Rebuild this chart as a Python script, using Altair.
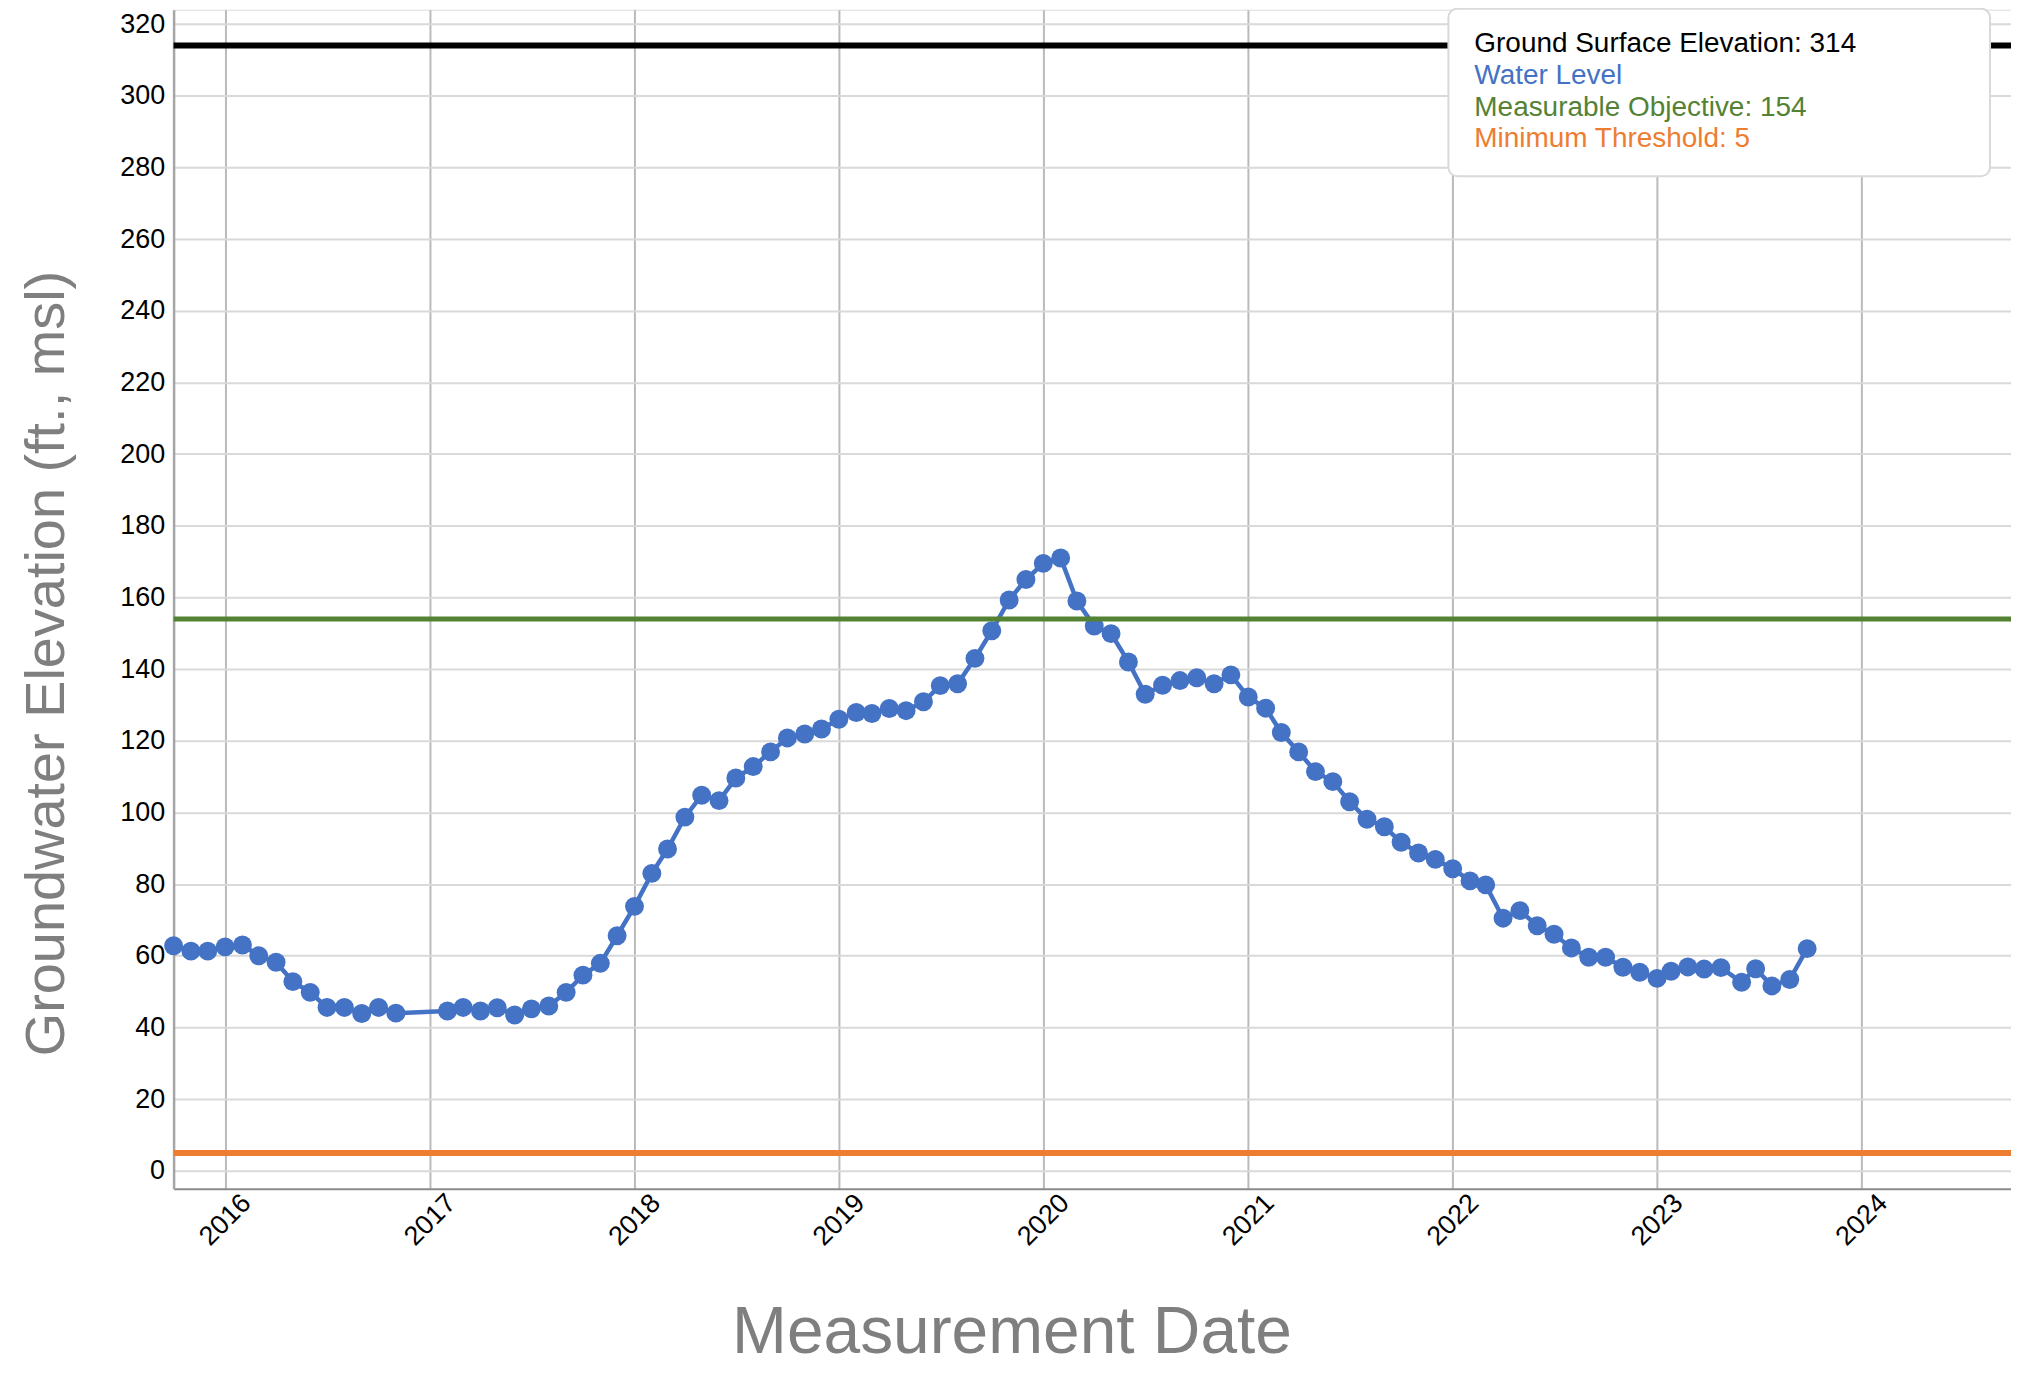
import altair as alt
import pandas as pd

# ---------------- data ----------------
dates = [
    "2015-10-01", "2015-11-01", "2015-12-01", "2016-01-01", "2016-02-01", "2016-03-01",
    "2016-04-01", "2016-05-01", "2016-06-01", "2016-07-01", "2016-08-01", "2016-09-01",
    "2016-10-01", "2016-11-01", "2017-02-01", "2017-03-01", "2017-04-01", "2017-05-01",
    "2017-06-01", "2017-07-01", "2017-08-01", "2017-09-01", "2017-10-01", "2017-11-01",
    "2017-12-01", "2018-01-01", "2018-02-01", "2018-03-01", "2018-04-01", "2018-05-01",
    "2018-06-01", "2018-07-01", "2018-08-01", "2018-09-01", "2018-10-01", "2018-11-01",
    "2018-12-01", "2019-01-01", "2019-02-01", "2019-03-01", "2019-04-01", "2019-05-01",
    "2019-06-01", "2019-07-01", "2019-08-01", "2019-09-01", "2019-10-01", "2019-11-01",
    "2019-12-01", "2020-01-01", "2020-02-01", "2020-03-01", "2020-04-01", "2020-05-01",
    "2020-06-01", "2020-07-01", "2020-08-01", "2020-09-01", "2020-10-01", "2020-11-01",
    "2020-12-01", "2021-01-01", "2021-02-01", "2021-03-01", "2021-04-01", "2021-05-01",
    "2021-06-01", "2021-07-01", "2021-08-01", "2021-09-01", "2021-10-01", "2021-11-01",
    "2021-12-01", "2022-01-01", "2022-02-01", "2022-03-01", "2022-04-01", "2022-05-01",
    "2022-06-01", "2022-07-01", "2022-08-01", "2022-09-01", "2022-10-01", "2022-11-01",
    "2022-12-01", "2023-01-01", "2023-01-26", "2023-02-25", "2023-03-26", "2023-04-25",
    "2023-06-01", "2023-06-26", "2023-07-25", "2023-08-26", "2023-09-26",
]
water_level = [
    62.8, 61.3, 61.3, 62.5, 63.0, 60.0,
    58.2, 52.8, 49.8, 45.6, 45.6, 43.9,
    45.6, 44.0, 44.6, 45.6, 44.6, 45.5,
    43.5, 45.2, 46.0, 49.8, 54.6, 57.9,
    65.6, 73.8, 83.0, 89.8, 98.7, 104.8,
    103.3, 109.6, 112.8, 116.9, 120.8, 121.9,
    123.3, 126.0, 127.9, 127.6, 129.0, 128.4,
    130.9, 135.4, 135.9, 143.0, 150.7, 159.3,
    165.0, 169.5, 171.0, 159.0, 152.0, 149.9,
    142.0, 133.0, 135.5, 136.8, 137.6, 135.9,
    138.4, 132.2, 129.1, 122.3, 116.9, 111.4,
    108.6, 103.0, 98.1, 96.0, 91.7, 88.7,
    86.9, 84.3, 80.9, 79.8, 70.5, 72.6,
    68.4, 66.0, 62.2, 59.6, 59.6, 56.8,
    55.4, 53.7, 55.7, 56.9, 56.3, 56.7,
    52.6, 56.4, 51.6, 53.4, 62.0,
]

ref_values = [314, 154, 5]
ref_colors = ["#000000", "#548235", "#ED7D31"]
ref_widths = [6, 5, 6]

legend_labels = [
    "Ground Surface Elevation: 314",
    "Water Level",
    "Measurable Objective: 154",
    "Minimum Threshold: 5",
]
legend_colors = ["#000000", "#4472C4", "#548235", "#ED7D31"]

y_ticks = list(range(0, 321, 20))
x_years = list(range(2016, 2025))

FONT = "Liberation Sans"
BLUE = "#4472C4"

# ---------------- chart ----------------
df = pd.DataFrame({"date": dates, "level": water_level})
df_ref = pd.DataFrame({"value": ref_values, "color": ref_colors, "w": ref_widths})
df_leg = pd.DataFrame({"label": legend_labels, "color": legend_colors,
                       "i": list(range(len(legend_labels)))})

x_enc = alt.X(
    "date:T",
    scale=alt.Scale(
        type="utc",
        domain=[alt.DateTime(year=2015, month=10, date=1, utc=True),
                alt.DateTime(year=2024, month=9, date=24, utc=True)],
        nice=False,
    ),
    axis=alt.Axis(
        values=[alt.DateTime(year=y, month=1, date=1, utc=True) for y in x_years],
        format="%Y",
        labelAngle=-45,
        labelAlign="center",
        labelBaseline="middle",
        labelPadding=31,
        labelFontSize=27,
        labelColor="#000000",
        labelFont=FONT,
        labelOverlap=False,
        labelFlush=False,
        ticks=False,
        grid=True,
        gridColor="#bababa",
        gridWidth=2,
        domainColor="#8c8c8c",
        domainWidth=2,
        title="Measurement Date",
        titleFont=FONT,
        titleFontSize=66,
        titleFontWeight="normal",
        titleColor="#7f7f7f",
        titleX=840,
        titleY=164,
        titleAlign="center",
        titleBaseline="alphabetic",
    ),
)

y_enc = alt.Y(
    "level:Q",
    scale=alt.Scale(domain=[-5, 324], nice=False, zero=False),
    axis=alt.Axis(
        values=y_ticks,
        labelFontSize=27,
        labelColor="#000000",
        labelFont=FONT,
        labelPadding=9,
        ticks=False,
        grid=True,
        gridColor="#d9d9d9",
        gridWidth=2,
        domainColor="#a6a6a6",
        domainWidth=2.5,
        title="Groundwater Elevation (ft., msl)",
        titleFont=FONT,
        titleFontSize=56,
        titleFontWeight="normal",
        titleColor="#7f7f7f",
        titleAngle=270,
        titleX=-110,
        titleY=655,
        titleAlign="center",
        titleBaseline="alphabetic",
    ),
)

base = alt.Chart(df)
line = base.mark_line(color=BLUE, strokeWidth=4.5).encode(x=x_enc, y=y_enc)
points = base.mark_point(filled=True, size=360, opacity=1, color=BLUE).encode(
    x="date:T", y="level:Q"
)

rules = alt.Chart(df_ref).mark_rule().encode(
    y="value:Q",
    color=alt.Color("color:N", scale=None),
    strokeWidth=alt.StrokeWidth("w:Q", scale=None),
)

legend_box = alt.Chart(pd.DataFrame({"k": [0]})).mark_rect(
    fill="#ffffff", stroke="#d9d9d9", strokeWidth=2, cornerRadius=9
).encode(x=alt.value(1278), x2=alt.value(1821), y=alt.value(-1), y2=alt.value(167))

legend_texts = []
for i in range(len(legend_labels)):
    legend_texts.append(
        alt.Chart(df_leg)
        .transform_filter(f"datum.i == {i}")
        .mark_text(align="left", baseline="middle", fontSize=28, font=FONT)
        .encode(
            x=alt.value(1304),
            y=alt.value(34.5 + i * 31.8),
            text="label:N",
            color=alt.Color("color:N", scale=None),
        )
    )

chart = (
    alt.layer(line, points, rules, legend_box, *legend_texts)
    .properties(
        width=1842,
        height=1182,
        autosize=alt.AutoSizeParams(type="none"),
        padding={"left": 166, "top": 0, "right": 0, "bottom": 180},
    )
    .configure_view(strokeWidth=0)
    .configure(font=FONT)
)

chart.save("out.html", embed_options={"renderer": "svg", "actions": False})
